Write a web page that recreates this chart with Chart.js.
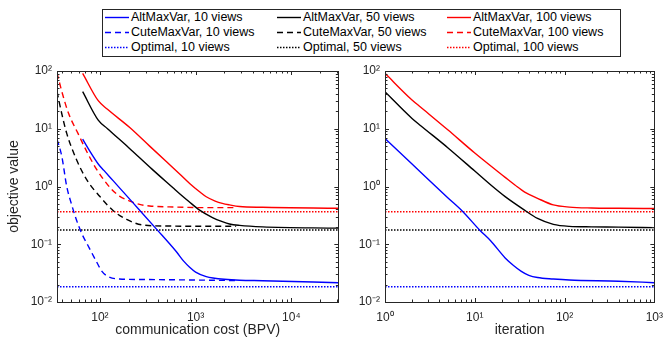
<!DOCTYPE html>
<html>
<head>
<meta charset="utf-8">
<script src="https://cdn.jsdelivr.net/npm/chart.js@4/dist/chart.umd.min.js"></script>
<style>
  body { margin: 0; background: #fff; width: 671px; height: 341px; overflow: hidden; position: relative; font-family: "Liberation Sans", Arial, sans-serif; }
  canvas { position: absolute; top: 0; }
  #left { left: 0; }
  #right { left: 345px; }
  #legend { position: absolute; left: 102px; top: 9px; width: 517px; height: 46px; border: 1px solid #262626; background: #fff; font-size: 12.5px; color: #000; }
  .item { position: absolute; height: 15px; line-height: 15px; white-space: nowrap; }
  .item svg { position: absolute; left: 0; top: 6px; }
  .item span { position: absolute; left: 26px; top: 0; }
</style>
</head>
<body>
<canvas id="left" width="345" height="341"></canvas>
<canvas id="right" width="326" height="341"></canvas>
<div id="legend"></div>
<script>
// legend / series
const methods = ['AltMaxVar', 'CuteMaxVar', 'Optimal'];
const views = [10, 50, 100];
const viewColors = ['#0000ff', '#000000', '#ff0000'];

// left panel: communication cost (BPV)
const costAlt10 = [66, 79, 96, 110, 138, 222, 390, 630, 750, 866, 1000, 1291, 1520, 2880, 5000, 31000];
const objAlt10 = [6.6, 4.0, 2.45, 1.9, 1.25, 0.52, 0.183, 0.074, 0.051, 0.04, 0.033, 0.0275, 0.026, 0.0238, 0.0234, 0.0216];
const costAlt50 = [66, 96, 120, 200, 350, 580, 681, 850, 1100, 1500, 1900, 2260, 2880, 5000, 31000];
const objAlt50 = [43.8, 14.1, 10.0, 4.7, 2.0, 0.95, 0.75, 0.55, 0.39, 0.29, 0.246, 0.224, 0.212, 0.2, 0.19];
const costAlt100 = [66, 96, 120, 205, 331, 500, 681, 866, 1100, 1291, 1600, 1900, 2260, 2880, 5000, 31000];
const objAlt100 = [91, 30.6, 21.7, 10.5, 5.0, 2.65, 1.65, 1.13, 0.81, 0.665, 0.56, 0.51, 0.48, 0.45, 0.436, 0.42];

const costCute10 = [35.6, 40, 45, 50, 57, 65, 75, 92, 105, 120, 160, 300, 1000, 2650];
const objCute10 = [6.6, 3.3, 1.0, 0.52, 0.26, 0.15, 0.095, 0.05, 0.034, 0.028, 0.025, 0.0245, 0.024, 0.0235];
const costCute50 = [35.6, 40, 45, 57, 73, 100, 138, 190, 282, 500, 1000, 2650];
const objCute50 = [44, 18, 8.3, 2.9, 1.3, 0.67, 0.38, 0.27, 0.215, 0.207, 0.205, 0.205];
const costCute100 = [35.6, 40, 47, 59, 73, 92, 110, 132, 160, 205, 260, 330, 630, 1200, 2650];
const objCute100 = [93, 44, 18.5, 8.3, 4.0, 2.0, 1.3, 0.9, 0.68, 0.56, 0.49, 0.46, 0.44, 0.43, 0.43];

// right panel: iteration
const iter10 = [1, 2, 3.58, 5, 7.38, 11.3, 15, 21.8, 27, 33, 40, 50, 75, 113, 400, 1000];
const iterObj10 = [6.8, 2.46, 1.04, 0.64, 0.366, 0.177, 0.115, 0.058, 0.043, 0.034, 0.029, 0.0265, 0.025, 0.024, 0.0229, 0.0216];
const iter50 = [1, 2, 2.5, 5, 10, 15.1, 21.8, 35.8, 50, 75, 113, 200, 400, 1000];
const iterObj50 = [43.8, 15.1, 11.3, 4.7, 1.85, 1.06, 0.667, 0.39, 0.28, 0.221, 0.204, 0.2, 0.198, 0.194];
const iter100 = [1, 2, 2.5, 5, 10, 21.8, 28, 36, 50, 75, 113, 200, 400, 1000];
const iterObj100 = [91, 31.5, 23.6, 9.6, 3.8, 1.44, 1.06, 0.8, 0.625, 0.48, 0.44, 0.425, 0.42, 0.415];

// optimal objective (horizontal lines)
const optimal = [0.0184, 0.177, 0.366];

// axes
const costRange = [35.6, 31000];
const iterRange = [1, 1000];
const objRange = [0.01, 100];
const decades = [0.01, 0.1, 1, 10, 100, 1000, 10000, 100000];

const axisColor = '#262626';
const dashes = { AltMaxVar: [], CuteMaxVar: [6, 4], Optimal: [1.5, 1.5] };

function pts(xs, ys) {
  return xs.map((x, i) => ({ x: x, y: ys[i] }));
}

function line(label, xs, ys, color, dash) {
  return {
    label: label,
    data: pts(xs, ys),
    borderColor: color,
    borderWidth: 1.4,
    borderDash: dash,
    pointRadius: 0,
    fill: false,
    cubicInterpolationMode: 'monotone'
  };
}

const sup = { '-': '\u207b', '0': '\u2070', '1': '\u00b9', '2': '\u00b2', '3': '\u00b3', '4': '\u2074' };
function isDecade(v) {
  const l = Math.log10(v);
  return Math.abs(l - Math.round(l)) < 1e-9;
}
function powLabel(v) {
  if (!isDecade(v)) return '';
  const e = String(Math.round(Math.log10(v)));
  return '10' + e.split('').map(c => sup[c]).join('');
}
function logTicks(min, max) {
  const out = [];
  decades.forEach(d => {
    for (let m = 1; m <= 9; m++) {
      const v = Math.round(d * m * 1e6) / 1e6;
      if (v >= min * 0.9999 && v <= max * 1.0001) out.push({ value: v, major: m === 1 });
    }
  });
  return out;
}

// inward ticks on all four sides + box, like the original figure
const boxTicks = {
  id: 'boxTicks',
  afterDatasetsDraw(chart) {
    const { ctx, chartArea: a, scales: { x, y } } = chart;
    ctx.save();
    ctx.strokeStyle = axisColor;
    ctx.lineWidth = 1;
    ctx.beginPath();
    x.ticks.forEach(t => {
      const px = Math.round(x.getPixelForValue(t.value)) + 0.5;
      const len = t.major ? 4 : 2.5;
      ctx.moveTo(px, a.bottom); ctx.lineTo(px, a.bottom - len);
      ctx.moveTo(px, a.top); ctx.lineTo(px, a.top + len);
    });
    y.ticks.forEach(t => {
      const py = Math.round(y.getPixelForValue(t.value)) + 0.5;
      const len = t.major ? 4 : 2.5;
      ctx.moveTo(a.left, py); ctx.lineTo(a.left + len, py);
      ctx.moveTo(a.right, py); ctx.lineTo(a.right - len, py);
    });
    ctx.stroke();
    ctx.strokeRect(Math.round(a.left) + 0.5, Math.round(a.top) + 0.5,
      Math.round(a.right - a.left), Math.round(a.bottom - a.top));
    ctx.restore();
  }
};

const tickFont = { family: 'Liberation Sans', size: 12 };
const titleFont = { family: 'Liberation Sans', size: 14, lineHeight: 1.2 };

function makeChart(id, xRange, xTitle, yTitle, yWidth, sets) {
  const datasets = [];
  sets.forEach((s, i) => {
    datasets.push(line(methods[0] + ', ' + views[i] + ' views', s[0], s[1], viewColors[i], dashes.AltMaxVar));
    if (s[2]) datasets.push(line(methods[1] + ', ' + views[i] + ' views', s[2], s[3], viewColors[i], dashes.CuteMaxVar));
    datasets.push(line(methods[2] + ', ' + views[i] + ' views', xRange, [optimal[i], optimal[i]], viewColors[i], dashes.Optimal));
  });
  return new Chart(document.getElementById(id), {
    type: 'line',
    data: { datasets: datasets },
    options: {
      responsive: false,
      animation: false,
      layout: { padding: { top: 71, right: 6, left: 0, bottom: 0 } },
      plugins: { legend: { display: false }, tooltip: { enabled: false } },
      scales: {
        x: {
          type: 'logarithmic',
          min: xRange[0],
          max: xRange[1],
          grid: { display: false, drawTicks: false },
          border: { display: false },
          afterBuildTicks: s => { s.ticks = logTicks(xRange[0], xRange[1]); },
          afterFit: s => { s.height = 39; },
          ticks: { autoSkip: false, maxRotation: 0, minRotation: 0, padding: 8, color: axisColor, font: tickFont, callback: v => powLabel(v) },
          title: { display: true, text: xTitle, color: axisColor, font: titleFont, padding: { top: 0, bottom: 2 } }
        },
        y: {
          type: 'logarithmic',
          min: objRange[0],
          max: objRange[1],
          grid: { display: false, drawTicks: false },
          border: { display: false },
          afterBuildTicks: s => { s.ticks = logTicks(objRange[0], objRange[1]); },
          afterFit: s => { s.width = yWidth; },
          ticks: { autoSkip: false, padding: 5, color: axisColor, font: tickFont, callback: v => powLabel(v) },
          title: { display: !!yTitle, text: yTitle, color: axisColor, font: titleFont, padding: { top: 6, bottom: 0 } }
        }
      }
    },
    plugins: [boxTicks]
  });
}

makeChart('left', costRange, 'communication cost (BPV)', 'objective value', 57, [
  [costAlt10, objAlt10, costCute10, objCute10],
  [costAlt50, objAlt50, costCute50, objCute50],
  [costAlt100, objAlt100, costCute100, objCute100]
]);
makeChart('right', iterRange, 'iteration', '', 40, [
  [iter10, iterObj10],
  [iter50, iterObj50],
  [iter100, iterObj100]
]);

// legend: three columns (10 / 50 / 100 views), rows per method
const legend = document.getElementById('legend');
const colX = [2, 174, 344];
methods.forEach((m, r) => {
  views.forEach((v, c) => {
    const item = document.createElement('div');
    item.className = 'item';
    item.style.left = colX[c] + 'px';
    item.style.top = (r * 15) + 'px';
    const dash = dashes[m].join(' ');
    item.innerHTML = '<svg width="24" height="3"><line x1="0" y1="1.5" x2="24" y2="1.5" stroke="' + viewColors[c] +
      '" stroke-width="1.4"' + (dash ? ' stroke-dasharray="' + dash + '"' : '') + '/></svg><span>' + m + ', ' + v + ' views</span>';
    legend.appendChild(item);
  });
});
</script>
</body>
</html>
